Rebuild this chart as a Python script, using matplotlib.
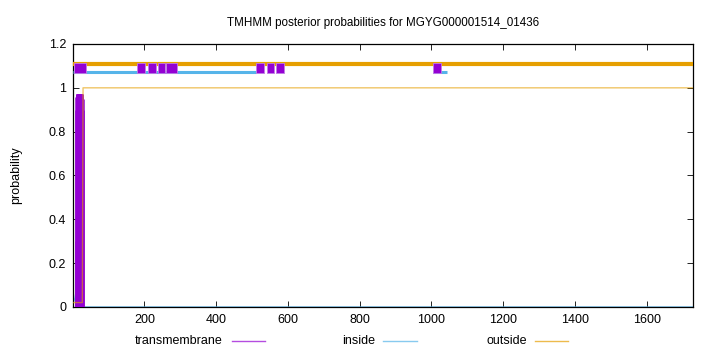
import matplotlib as mpl
mpl.use("Agg")
import matplotlib.pyplot as plt
from matplotlib.lines import Line2D

mpl.rcParams.update({"font.family": "sans-serif",
                     "font.sans-serif": ["Liberation Sans", "DejaVu Sans"]})

PURPLE, BLUE, ORANGE = "#9400D3", "#56B4E9", "#E69F00"

seq_len = 1728
title = "TMHMM posterior probabilities for MGYG000001514_01436"

# posterior probability per residue
tm_pos = list(range(8, 30))
tm_prob = [0.30, 0.90, 0.96, 0.97, 0.97, 0.97, 0.97, 0.97, 0.97, 0.97, 0.97,
           0.97, 0.97, 0.97, 0.97, 0.97, 0.97, 0.97, 0.97, 0.96, 0.95, 0.90]
inside_x = [1, 2, 4, 8, 12, seq_len]
inside_y = [1.0, 0.06, 0.04, 0.02, 0.0, 0.0]
outside_x = [1, 27, 29, seq_len]
outside_y = [0.02, 0.02, 1.0, 1.0]

# predicted topology bars along the top
tm_segs = [(3, 35), (180, 22), (210, 23), (238, 20), (260, 31),
           (511, 23), (542, 19), (567, 22), (1004, 23)]
inside_segs = [(1, 511), (1004, 1043)]
outside_segs = [(1, seq_len)]

fig = plt.figure(figsize=(7.2, 3.52), dpi=100)
ax = fig.add_axes([0.1014, 0.128, 0.962 - 0.1014, 0.875 - 0.128])

ax.vlines(tm_pos, 0, tm_prob, color=PURPLE, lw=1.8, zorder=3)
ax.plot(inside_x, inside_y, color=BLUE, lw=1.0, alpha=0.8, zorder=2)
ax.plot(outside_x, outside_y, color=ORANGE, lw=1.0, alpha=0.6, zorder=4)

for a, b in outside_segs:
    ax.plot([a, b], [1.111, 1.111], color=ORANGE, lw=3.0, solid_capstyle="butt", zorder=3)
for a, b in inside_segs:
    ax.plot([a, b], [1.072, 1.072], color=BLUE, lw=2.2, solid_capstyle="butt", zorder=3)
ax.broken_barh(tm_segs, (1.067, 0.046), facecolor=PURPLE, edgecolor="#c27de6", lw=0.6, zorder=4)

ax.set_xlim(1, seq_len)
ax.set_ylim(0, 1.2)
ax.set_xticks([200, 400, 600, 800, 1000, 1200, 1400, 1600])
ax.set_yticks([0, 0.2, 0.4, 0.6, 0.8, 1.0, 1.2])
ax.set_yticklabels(["0", "0.2", "0.4", "0.6", "0.8", "1", "1.2"])
ax.tick_params(direction="in", top=True, right=True, length=4, width=0.6, labelsize=9, pad=5)
for s in ax.spines.values():
    s.set_linewidth(0.9)
ax.set_title(title, fontsize=8.4, pad=13)
ax.set_ylabel("probability", fontsize=9, labelpad=19)

# legend row below the axis
y_leg = 1 - 341 / 352
for label, tx, x0, x1, c in [("transmembrane", 223, 232, 265, PURPLE),
                             ("inside", 375, 383, 417, BLUE),
                             ("outside", 527, 535, 568, ORANGE)]:
    fig.text(tx / 720, y_leg, label, ha="right", va="center", fontsize=9)
    fig.add_artist(Line2D([x0 / 720, x1 / 720], [y_leg, y_leg], color=c, lw=1.0, alpha=0.7))

fig.savefig("out.png", dpi=100)
